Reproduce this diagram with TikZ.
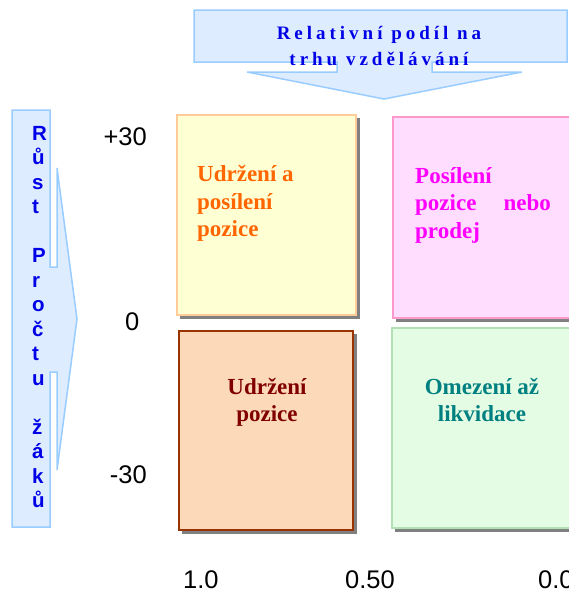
\documentclass[tikz,border=0pt]{standalone}
\usepackage{fontspec}
\setmainfont{Liberation Serif}
\newfontfamily\arialfont{Liberation Sans}
\newfontfamily\trackfont[LetterSpace=21]{Liberation Serif}
\usetikzlibrary{backgrounds}

\definecolor{calloutfill}{RGB}{221,236,255}
\definecolor{calloutline}{RGB}{153,204,255}
\definecolor{titleblue}{RGB}{0,0,230}
\definecolor{tlfill}{RGB}{255,255,212}
\definecolor{tlline}{RGB}{255,204,153}
\definecolor{tltext}{RGB}{255,102,0}
\definecolor{trfill}{RGB}{255,221,255}
\definecolor{trline}{RGB}{255,153,204}
\definecolor{trtext}{RGB}{255,0,255}
\definecolor{blfill}{RGB}{252,217,184}
\definecolor{blline}{RGB}{153,51,0}
\definecolor{bltext}{RGB}{128,0,0}
\definecolor{brfill}{RGB}{228,252,228}
\definecolor{brline}{RGB}{179,224,179}
\definecolor{brtext}{RGB}{0,128,128}
\definecolor{shadowgrey}{RGB}{128,128,128}

\begin{document}
\begin{tikzpicture}[x=1pt,y=-1pt,
  callout/.style={draw=calloutline, fill=calloutfill, line width=1.5pt, line join=miter},
  titletext/.style={inner sep=0pt, text=titleblue, font=\trackfont\bfseries\fontsize{19}{22}\selectfont},
  vlet/.style={inner sep=0pt, text=titleblue, font=\arialfont\bfseries\fontsize{20.5}{24}\selectfont},
  quad/.style={inner sep=0pt, line width=1.5pt},
  quadshadow/.style={fill=shadowgrey},
  quadtext/.style={inner sep=0pt, font=\bfseries\fontsize{23}{27.5}\selectfont},
  axislabel/.style={inner sep=0pt, font=\arialfont\fontsize{25.5}{30}\selectfont}]
\useasboundingbox (0,0) rectangle (569,592);

% top callout: market share axis
\draw[callout] (194,10) -- (567,10) -- (567,62) -- (432,62) -- (432,72) -- (522,72)
  -- (384,99) -- (247,72) -- (337,72) -- (337,62) -- (194,62) -- cycle;
\node[titletext, anchor=base] (title1) at (379,39.5) {Relativní podíl na};
\node[titletext, anchor=base] (title2) at (379,65) {trhu vzdělávání};

% left callout: growth axis
\draw[callout] (12,110) -- (50,110) -- (50,267) -- (57,267) -- (57,168) -- (77,319)
  -- (57,470) -- (57,372) -- (50,372) -- (50,527) -- (12,527) -- cycle;
\foreach \ch [count=\i from 0] in {R,ů,s,t,{},P,r,o,č,t,u,{},ž,á,k,ů}
  \node[vlet, anchor=base west] (v\i) at (32,{140+24.5*\i}) {\ch};

% quadrants
\node[quad, draw=tlline, fill=tlfill, minimum width=179pt, minimum height=200pt]
  (tl) at (266.5,215) {};
\node[quad, draw=trline, fill=trfill, minimum width=190pt, minimum height=201pt]
  (tr) at (488,217.5) {};
\node[quad, draw=blline, fill=blfill, minimum width=174pt, minimum height=199pt]
  (bl) at (266,430.5) {};
\node[quad, draw=brline, fill=brfill, minimum width=190pt, minimum height=200pt]
  (br) at (487,428) {};

% grey drop shadows, offset down and to the right
\begin{scope}[on background layer]
  \foreach \q in {tl,tr,bl,br}
    \fill[quadshadow] ([shift={(3.5,3.5)}]\q.north west)
      rectangle ([shift={(3.5,3.5)}]\q.south east);
\end{scope}

% quadrant texts
\node[quadtext, text=tltext, anchor=base west] (tla) at (197,181.5) {Udržení a};
\node[quadtext, text=tltext, anchor=base west] (tlb) at (197,209) {posílení};
\node[quadtext, text=tltext, anchor=base west] (tlc) at (197,236.5) {pozice};

\node[quadtext, text=trtext, anchor=base west] (tra) at (415,183) {Posílení};
\node[quadtext, text=trtext, anchor=base west] (trb) at (415,210.5) {pozice};
\node[quadtext, text=trtext, anchor=base east] (trc) at (551,210.5) {nebo};
\node[quadtext, text=trtext, anchor=base west] (trd) at (415,238) {prodej};

\node[quadtext, text=bltext, anchor=base] (bla) at (267,394) {Udržení};
\node[quadtext, text=bltext, anchor=base] (blb) at (267,421.5) {pozice};

\node[quadtext, text=brtext, anchor=base] (bra) at (482,394) {Omezení až};
\node[quadtext, text=brtext, anchor=base] (brb) at (482,421.5) {likvidace};

% axis values
\node[axislabel, anchor=base east] (yhi) at (147,145) {+30};
\node[axislabel, anchor=base west] (ymid) at (125,330) {0};
\node[axislabel, anchor=base east] (ylo) at (147,483) {-30};
\node[axislabel, anchor=base west] (xhi) at (183,588) {1.0};
\node[axislabel, anchor=base west] (xmid) at (345,588) {0.50};
\node[axislabel, anchor=base west] (xlo) at (538,588) {0.0};
\end{tikzpicture}
\end{document}
